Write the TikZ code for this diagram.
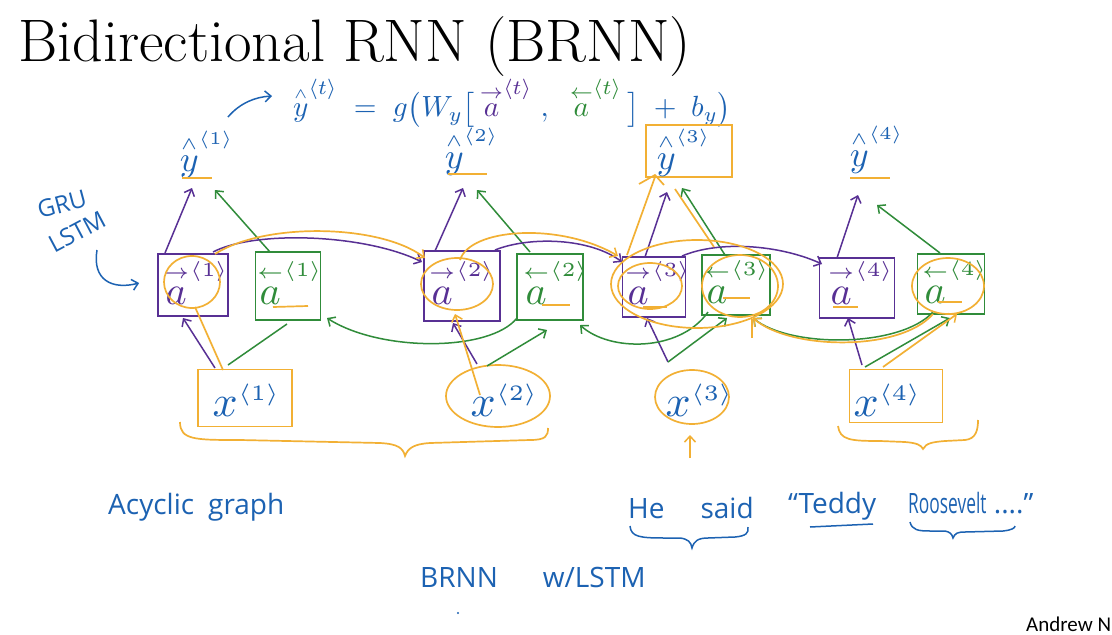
\documentclass[tikz,border=0pt]{standalone}
\usepackage{amsmath}
\usepackage{graphicx}
\usepackage{fontspec}
\newfontfamily\hand{Open Sans}
\newfontfamily\calib{Carlito}
\usetikzlibrary{arrows.meta,calc,shapes.geometric}
\definecolor{inkblue}{RGB}{28,98,178}
\definecolor{inkpurple}{RGB}{88,48,148}
\definecolor{inkgreen}{RGB}{48,140,58}
\definecolor{inkorange}{RGB}{242,176,52}
\newcommand{\mlab}[2]{\scalebox{#1}{$#2$}}
\newcommand{\yhat}{\overset{\scriptscriptstyle\wedge}{y}}
\tikzset{
  arr/.style={-{Straight Barb[length=6pt,width=11pt,line width=1.5pt]}},
  fwdbox/.style={draw=inkpurple,line width=1.7pt,rectangle,inner sep=0},
  bwdbox/.style={draw=inkgreen,line width=1.7pt,rectangle,inner sep=0},
  orbox/.style={draw=inkorange,line width=1.7pt,rectangle,inner sep=0},
  orell/.style={draw=inkorange,line width=1.7pt,ellipse,inner sep=0},
  fwd/.style={inkpurple,line width=1.5pt},
  bwd/.style={inkgreen,line width=1.5pt},
  hl/.style={inkorange,line width=1.7pt},
  bl/.style={inkblue,line width=1.5pt},
  ink/.style={text=inkblue,inner sep=0},
  fwdlbl/.style={text=inkpurple,inner sep=0},
  bwdlbl/.style={text=inkgreen,inner sep=0},
  xlbl/.style={text=inkblue,inner sep=0},
  ylbl/.style={text=inkblue,inner sep=0},
  handtxt/.style={text=inkblue,inner sep=0,font=\hand\fontsize{28}{32}\selectfont},
}
\begin{document}
\begin{tikzpicture}[x=1pt,y=-1pt]
\useasboundingbox (0,0) rectangle (1112,635);
\fill[white] (0,0) rectangle (1112,635);

% title
\node[anchor=base west,inner sep=0,font=\fontsize{60}{66}\selectfont] (title) at (18,61) {Bidirectional RNN (BRNN)};

% equation
\node[ink,anchor=west] (eq) at (293,103) {\resizebox{438pt}{!}{$\yhat^{\langle t\rangle}\;=\;g\bigl(W_y\bigl[\,\textcolor{inkpurple}{\overset{\rightarrow}{a}^{\langle t\rangle}}\;,\;\;\textcolor{inkgreen}{\overset{\leftarrow}{a}^{\langle t\rangle}}\,\bigr]\;+\;b_y\bigr)$}};
\coordinate (eqarr) at (228,117);
\draw[bl,arr] (eqarr) .. controls (240,103) and (255,97) .. ($(eq.west)+(-21,-7)$);

% GRU / LSTM (rising to the right)
\node[ink,font=\hand\fontsize{24}{26}\selectfont,rotate=15] (gru) at (62,204) {GRU};
\node[ink,font=\hand\fontsize{24}{26}\selectfont,rotate=28] (lstm) at (77,232) {LSTM};

% activation boxes
\node[fwdbox,minimum width=70pt,minimum height=62pt] (fa1) at (193,285) {};
\node[bwdbox,minimum width=65pt,minimum height=68pt] (ba1) at (288,286) {};
\node[fwdbox,minimum width=76pt,minimum height=70pt] (fa2) at (462,286) {};
\node[bwdbox,minimum width=66pt,minimum height=66pt] (ba2) at (550,287) {};
\node[fwdbox,minimum width=63pt,minimum height=60pt] (fa3) at (654,287) {};
\node[bwdbox,minimum width=68pt,minimum height=60pt] (ba3) at (736,285) {};
\node[fwdbox,minimum width=75pt,minimum height=60pt] (fa4) at (857,288) {};
\node[bwdbox,minimum width=67pt,minimum height=60pt] (ba4) at (951,284) {};

\node[fwdlbl] (fa1t) at (196,283) {\mlab{4}{\overset{\scriptscriptstyle\rightarrow}{a}^{\scriptscriptstyle\langle 1\rangle}}};
\node[bwdlbl] (ba1t) at (290,283) {\mlab{4}{\overset{\scriptscriptstyle\leftarrow}{a}^{\scriptscriptstyle\langle 1\rangle}}};
\node[fwdlbl] (fa2t) at (462,283) {\mlab{4}{\overset{\scriptscriptstyle\rightarrow}{a}^{\scriptscriptstyle\langle 2\rangle}}};
\node[bwdlbl] (ba2t) at (556,283) {\mlab{4}{\overset{\scriptscriptstyle\leftarrow}{a}^{\scriptscriptstyle\langle 2\rangle}}};
\node[fwdlbl] (fa3t) at (658,283) {\mlab{4}{\overset{\scriptscriptstyle\rightarrow}{a}^{\scriptscriptstyle\langle 3\rangle}}};
\node[bwdlbl] (ba3t) at (737,282) {\mlab{4}{\overset{\scriptscriptstyle\leftarrow}{a}^{\scriptscriptstyle\langle 3\rangle}}};
\node[fwdlbl] (fa4t) at (861,283) {\mlab{4}{\overset{\scriptscriptstyle\rightarrow}{a}^{\scriptscriptstyle\langle 4\rangle}}};
\node[bwdlbl] (ba4t) at (955,282) {\mlab{4}{\overset{\scriptscriptstyle\leftarrow}{a}^{\scriptscriptstyle\langle 4\rangle}}};

% inputs
\node[orbox,minimum width=94pt,minimum height=57pt] (x1) at (245,398) {};
\node[orell,minimum width=104pt,minimum height=62pt] (x2) at (498,396) {};
\node[orell,minimum width=74pt,minimum height=54pt] (x3) at (692,397) {};
\node[orbox,minimum width=93pt,minimum height=53pt] (x4) at (896,396) {};
\node[xlbl] (x1t) at (247,400) {\mlab{4.4}{x^{\scriptscriptstyle\langle 1\rangle}}};
\node[xlbl] (x2t) at (505,400) {\mlab{4.4}{x^{\scriptscriptstyle\langle 2\rangle}}};
\node[xlbl] (x3t) at (700,400) {\mlab{4.4}{x^{\scriptscriptstyle\langle 3\rangle}}};
\node[xlbl] (x4t) at (888,400) {\mlab{4.4}{x^{\scriptscriptstyle\langle 4\rangle}}};

% outputs
\node[ylbl] (yh1) at (207,155) {\mlab{3.6}{\yhat^{\scriptscriptstyle\langle 1\rangle}}};
\node[ylbl] (yh2) at (472,152) {\mlab{3.6}{\yhat^{\scriptscriptstyle\langle 2\rangle}}};
\node[orbox,minimum width=86pt,minimum height=52pt] (y3) at (689,151) {};
\node[ylbl] (yh3) at (684,153) {\mlab{3.6}{\yhat^{\scriptscriptstyle\langle 3\rangle}}};
\node[ylbl] (yh4) at (877,150) {\mlab{3.6}{\yhat^{\scriptscriptstyle\langle 4\rangle}}};

% orange underlines
\draw[hl] (182,178) -- (212,178);
\draw[hl] (448,174) -- (487,174);
\draw[hl] (850,178) -- (890,178);
\draw[hl] (273,307) -- (308,306);
\draw[hl] (542,305) -- (570,305);
\draw[hl] (723,298) -- (750,298);
\draw[hl] (643,307) -- (667,307);
\draw[hl] (833,307) -- (858,307);
\draw[hl] (938,302) -- (962,302);

% GRU/LSTM arrow
\coordinate (lstmarr) at (97,250);
\draw[bl,arr] (lstmarr) .. controls (92,280) and (112,290) .. ($(fa1.west)+(-18,-2)$);

% input connectors
\draw[fwd,arr] ($(x1)+(-30,-30)$) -- ($(fa1)+(-10,33)$);
\draw[bwd] ($(x1)+(-17,-33)$) -- ($(ba1)+(-1,38)$);
\draw[fwd,arr] ($(x2)+(-21,-32)$) -- ($(fa2)+(-9,37)$);
\draw[bwd,arr] ($(x2)+(-11,-30)$) -- ($(ba2)+(-3,43)$);
\draw[fwd,arr] ($(x3)+(-24,-35)$) -- ($(fa3)+(-7,31)$);
\draw[bwd,arr] ($(x3)+(-24,-35)$) -- ($(ba3)+(-9,33)$);
\draw[fwd,arr] ($(x4)+(-34,-31)$) -- ($(fa4)+(-9,30)$);
\draw[bwd,arr] ($(x4)+(-31,-29)$) -- ($(ba4)+(-1,34)$);

% output connectors
\draw[fwd,arr] ($(fa1)+(-28,-32)$) -- ($(yh1)+(-15,33)$);
\draw[bwd,arr] ($(ba1)+(-18,-34)$) -- ($(yh1)+(8,35)$);
\draw[fwd,arr] ($(fa2)+(-27,-35)$) -- ($(yh2)+(-9,36)$);
\draw[bwd,arr] ($(ba2)+(-20,-35)$) -- ($(yh2)+(5,38)$);
\draw[fwd,arr] ($(fa3)+(-9,-30)$) -- ($(y3)+(-22,41)$);
\draw[bwd,arr] ($(ba3)+(-11,-30)$) -- ($(y3)+(-7,37)$);
\draw[fwd,arr] ($(fa4)+(-20,-30)$) -- ($(yh4)+(-19,45)$);
\draw[bwd,arr] ($(ba4)+(-11,-31)$) -- ($(yh4)+(0,55)$);

% forward recurrence
\draw[fwd,arr] ($(fa1)+(20,-33)$) .. controls (255,230) and (365,234) .. ($(fa2)+(-40,-24)$);
\draw[fwd,arr] ($(fa2)+(33,-36)$) .. controls (530,236) and (590,238) .. ($(fa3)+(-32,-25)$);
\draw[fwd,arr] ($(fa3)+(28,-31)$) .. controls (720,240) and (780,245) .. ($(fa4)+(-35,-24)$);

% backward recurrence
\draw[bwd,arr] ($(ba2)+(-33,31)$) .. controls (490,352) and (380,352) .. ($(ba1)+(39,32)$);
\draw[bwd,arr] ($(ba3)+(-28,27)$) .. controls (680,352) and (610,352) .. ($(ba2)+(30,38)$);
\draw[bwd,arr] ($(ba4)+(-18,28)$) .. controls (900,348) and (790,348) .. ($(ba3)+(17,33)$);

% orange highlights
\draw[hl] (192,282) ellipse [x radius=28, y radius=26];
\draw[hl] (457,284) ellipse [x radius=36, y radius=26];
\draw[hl] (650,286) ellipse [x radius=32, y radius=23];
\draw[hl] (697,284) ellipse [x radius=86, y radius=44];
\draw[hl] (740,286) ellipse [x radius=38, y radius=31];
\draw[hl] (948,286) ellipse [x radius=36, y radius=28];
\draw[hl] ($(x1)+(-22,-28)$) -- ($(fa1)+(2,22)$);
\draw[hl,arr] ($(fa1)+(22,-31)$) .. controls (265,222) and (380,224) .. ($(fa2)+(-37,-28)$);
\draw[hl,arr] ($(x2)+(-18,-1)$) -- ($(fa2)+(-7,28)$);
\draw[hl,arr] ($(fa2)+(-2,-26)$) .. controls (470,228) and (560,222) .. ($(fa3)+(-36,-31)$);
\draw[hl] ($(fa3)+(-27,-32)$) -- ($(y3)+(-34,26)$);
\draw[hl] ($(ba3)+(-22,-38)$) -- ($(y3)+(-14,38)$);
\draw[hl] ($(y3)+(-50,33)$) -- ($(y3)+(-34,24)$) -- ($(y3)+(-25,34)$);
\coordinate (x3up) at (690,458);
\draw[hl,arr] (x3up) -- ($(x3)+(-2,38)$);
\draw[hl,arr] ($(x4)+(-13,-29)$) -- ($(ba4)+(6,30)$);
\draw[hl,arr] ($(ba4)+(-18,30)$) .. controls (900,352) and (790,350) .. ($(ba3)+(17,33)$);
\draw[hl] ($(ba3)+(16,34)$) -- ($(ba3)+(16,53)$);

% orange braces
\draw[hl] (180,422) .. controls (180,440) and (195,440) .. (240,440) -- (380,443) .. controls (398,444) and (403,448) .. (405,456) .. controls (408,448) and (414,444) .. (430,443) -- (530,440) .. controls (546,440) and (548,436) .. (548,428);
\draw[hl] (838,426) .. controls (840,440) and (850,441) .. (880,441) -- (905,442) .. controls (917,443) and (921,445) .. (923,449) .. controls (926,443) and (933,442) .. (945,441) -- (965,440) .. controls (976,439) and (978,430) .. (978,420);

% bottom handwriting
\node[handtxt,anchor=base west] (acyc) at (108,514) {Acyclic\hspace{14pt}graph};
\node[handtxt,anchor=base west] (brnn) at (420,587) {BRNN\hspace{45pt}w/LSTM};
\node[handtxt,anchor=base west] (hesaid) at (628,518) {He\hspace{36pt}said};
\node[handtxt,anchor=base west] (teddy) at (788,513) {“Teddy};
\node[handtxt,anchor=base west] (roos) at (908,513) {\scalebox{0.62}[1]{Roosevelt} ....”};
\draw[bl] (810,527) -- (873,524);
\draw[bl] (630,526) .. controls (631,537) and (640,538) .. (665,538) -- (680,538) .. controls (688,539) and (691,542) .. (692,548) .. controls (694,541) and (698,538) .. (708,538) -- (735,537) .. controls (746,536) and (749,533) .. (748,527);
\draw[bl] (910,522) .. controls (912,530) and (918,531) .. (930,531) -- (945,531) .. controls (950,532) and (952,534) .. (953,538) .. controls (955,533) and (958,532) .. (965,532) -- (1003,531) .. controls (1012,530) and (1015,528) .. (1015,526);
\fill[inkblue] (458,613) circle (1.2pt);

% author
\node[anchor=base west,inner sep=0,font=\calib\fontsize{21}{24}\selectfont] (author) at (1026,631) {Andrew N};
\end{tikzpicture}
\end{document}
